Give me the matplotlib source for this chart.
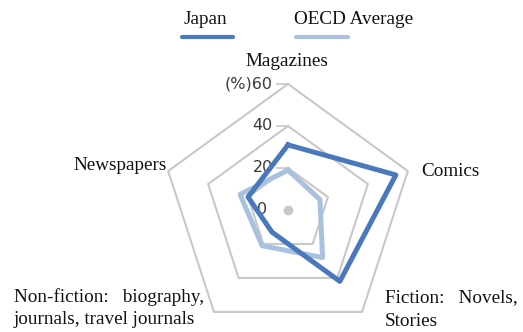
import numpy as np
import matplotlib
matplotlib.use("Agg")
import matplotlib.pyplot as plt
from matplotlib.lines import Line2D

# data (%)
categories = ["Magazines", "Comics", "Fiction", "Non-fiction", "Newspapers"]
japan = [31, 54, 42, 13, 20]
oecd = [19, 16, 28, 21, 24]
ring_ticks = [20, 40, 60]
tick_labels = ["(%)60", "40", "20", "0"]
tick_values = [60, 40, 20, 0]

japan_col = "#4a78bd"
oecd_col = "#a9c1de"
grid_col = "#c8c8c8"

W, H = 523, 332
fig = plt.figure(figsize=(W / 100, H / 100), dpi=100)

# polar axes placed so the centre sits at px (288, 210), radius 126 px
cx, cy, R = 288, 210, 126
ax = fig.add_axes([(cx - R) / W, (H - cy - R) / H, 2 * R / W, 2 * R / H],
                  projection="polar")
ax.set_theta_zero_location("N")
ax.set_theta_direction(-1)
ax.set_ylim(0, 60)
ax.grid(False)
ax.spines["polar"].set_visible(False)
ax.set_xticks([])
ax.set_yticks([])
ax.patch.set_alpha(0)

n = len(categories)
theta = np.linspace(0, 2 * np.pi, n, endpoint=False)
theta_c = np.append(theta, theta[0])

# pentagon rings
for r in ring_ticks:
    ax.plot(theta_c, [r] * (n + 1), color=grid_col, lw=1.5, clip_on=False, zorder=1)
ax.plot([0], [0], marker="o", ms=6, color=grid_col, zorder=1)

# tick marks + labels on the top spoke
ax.plot([0] * len(tick_values[:-1]), tick_values[:-1], ls="none", marker=0,
        ms=9, mew=1.2, color=grid_col, clip_on=False, zorder=1)
for lab, v in zip(tick_labels, tick_values):
    ax.annotate(lab, xy=(0, v), xytext=(-11 if v else -15, 0),
                textcoords="offset points", ha="right", va="center",
                fontsize=11.5, color="#3a3a3a", family="DejaVu Sans",
                annotation_clip=False)

# series
ax.plot(theta_c, oecd + oecd[:1], color=oecd_col, lw=3.6, clip_on=False, zorder=2)
ax.plot(theta_c, japan + japan[:1], color=japan_col, lw=3.6, clip_on=False, zorder=3)

serif = "Liberation Serif"
fs = 13.8


def ftext(x, y, s, **kw):
    fig.text(x / W, 1 - y / H, s, family=serif, fontsize=fs, color="#111111", **kw)


# category labels
ftext(287, 62, "Magazines", ha="center", va="center")
ftext(421, 171, "Comics", ha="left", va="center")
ftext(167, 166, "Newspapers", ha="right", va="center")
ftext(385, 298, "Fiction:   Novels,", ha="left", va="center")
ftext(385, 322, "Stories", ha="left", va="center")
ftext(14, 297, "Non-fiction:   biography,", ha="left", va="center")
ftext(14, 320, "journals, travel journals", ha="left", va="center")

# legend: text above a short line
ftext(205, 20, "Japan", ha="center", va="center")
ftext(354, 20, "OECD Average", ha="center", va="center")
fig.add_artist(Line2D([182 / W, 233 / W], [1 - 37 / H] * 2, color=japan_col,
                      lw=3, solid_capstyle="round"))
fig.add_artist(Line2D([296 / W, 348 / W], [1 - 37 / H] * 2, color=oecd_col,
                      lw=3, solid_capstyle="round"))

fig.savefig("out.png", dpi=100)
